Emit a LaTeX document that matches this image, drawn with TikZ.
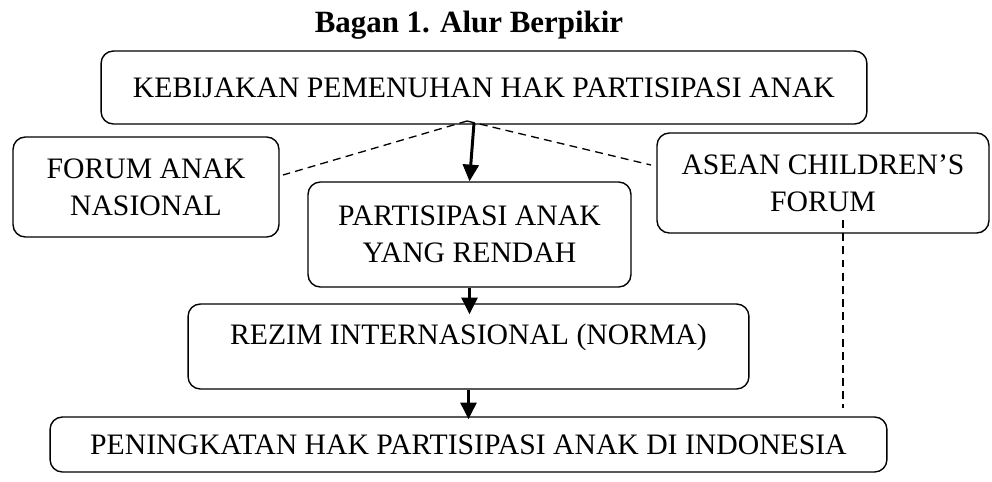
\documentclass[tikz,border=0pt]{standalone}
\usepackage{fontspec}
\setmainfont{Liberation Serif}
\usetikzlibrary{arrows.meta}
\tikzset{
  kotak/.style  = {rectangle, draw, line width=0.8pt, rounded corners=7pt, align=center, inner sep=0, font=\fontsize{16.9}{21}\selectfont},
  putus/.style  = {line width=0.75pt, dash pattern=on 4.5pt off 3pt},
  panah/.style  = {line width=1.7pt, -{Triangle[length=9.5pt, width=9pt]}},
  judul/.style  = {font=\fontsize{17.6}{20}\selectfont\bfseries}
}
\begin{document}
\begin{tikzpicture}[x=0.02cm, y=-0.02cm]
  \useasboundingbox (0,0) rectangle (992,481);
  \node[judul] (bagan) at (469,25) {Bagan 1. Alur Berpikir};
  \node[kotak, minimum width=15.32cm, minimum height=1.46cm] (kebijakan)   at (484,87.5)  {KEBIJAKAN PEMENUHAN HAK PARTISIPASI ANAK};
  \node[kotak, minimum width=5.32cm,  minimum height=2.0cm]  (forum)       at (146,187)   {FORUM ANAK\\NASIONAL};
  \node[kotak, minimum width=6.64cm,  minimum height=2.0cm]  (asean)       at (823,183)   {ASEAN CHILDREN’S\\FORUM};
  \node[kotak, minimum width=6.46cm,  minimum height=2.1cm]  (partisipasi) at (469.5,234.5) {PARTISIPASI ANAK\\YANG RENDAH};
  \node[kotak, minimum width=11.22cm, minimum height=1.7cm, text depth=0.5cm] (rezim) at (468.5,346.5) {REZIM INTERNASIONAL (NORMA)};
  \node[kotak, minimum width=16.74cm, minimum height=1.1cm]  (peningkatan) at (468.5,444.5) {PENINGKATAN HAK PARTISIPASI ANAK DI INDONESIA};
  % garis putus-putus
  \coordinate (pusat) at (467,121); \coordinate (kiri) at (283,175); \coordinate (kanan) at (651,165);
  \draw[putus] (pusat) -- (kiri); \draw[putus] (pusat) -- (kanan);
  \coordinate (atas) at (843,220); \coordinate (bawah) at (843,408);
  \draw[putus] (atas) -- (bawah);
  % panah
  \coordinate (pangkal) at (474,123);
  \draw[panah] (pangkal) -- (partisipasi.north);
  \draw[panah] (partisipasi.south) -- ([yshift=-0.22cm]partisipasi.south |- rezim.north);
  \draw[panah] (rezim.south) -- ([yshift=-0.06cm]rezim.south |- peningkatan.north);
\end{tikzpicture}
\end{document}
